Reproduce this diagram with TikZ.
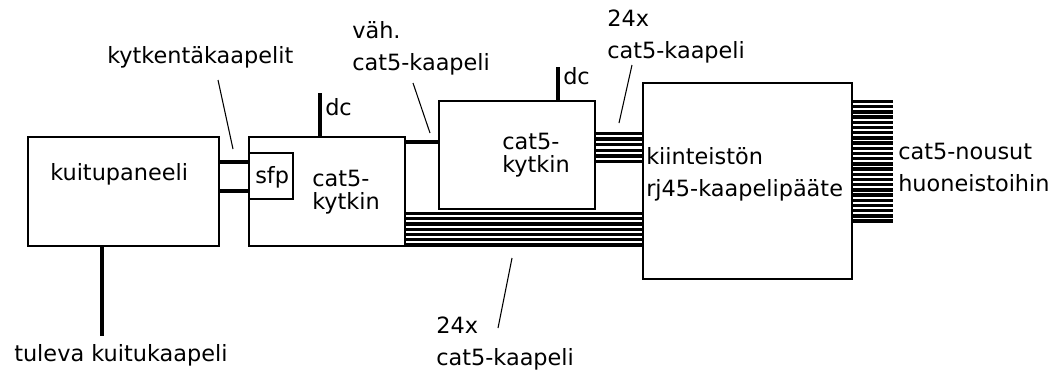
\documentclass[tikz,border=0pt]{standalone}
\usepackage{fontspec}
\setmainfont{DejaVu Sans}
\begin{document}
\begin{tikzpicture}[x=0.75pt,y=-0.75pt,
  box/.style 2 args={draw,line width=1.1pt,minimum width=#1*0.75pt,minimum height=#2*0.75pt,inner sep=0pt,fill=white},
  txt/.style={inner sep=0pt,anchor=west,align=left,font=\fontsize{16.8}{24}\selectfont},
  tighttxt/.style={txt,font=\fontsize{16.8}{17.5}\selectfont},
  cable/.style={line width=2.8pt},
  stripe/.style={line width=2.5pt},
  leader/.style={line width=0.8pt}]
\useasboundingbox (0,0) rectangle (1064,372);

% equipment
\node[box={191}{109}] (panel) at (123.5,191.5) {};
\node[box={156}{109}] (sw1) at (327,191.5) {};
\node[box={44}{46}] (sfp) at (271,176) {};
\node[box={156}{108}] (sw2) at (517,155) {};
\node[box={209}{196}] (pp) at (747.5,181) {};

% box texts
\node[txt] (tpanel) at (50,174) {kuitupaneeli};
\node[txt] (tsfp) at (255,177) {sfp};
\node[tighttxt] (tsw1) at (312,192) {cat5-\\kytkin};
\node[tighttxt] (tsw2) at (502,155) {cat5-\\kytkin};
\node[txt] (tpp) at (646,174) {kiinteistön\\rj45-kaapelipääte};

% fibre in and patch cables to the sfp module
\coordinate (fin) at (102,336);
\draw[cable] (panel.south -| fin) -- (fin);
\draw[cable] (panel.east |- 0,162) -- (sfp.west |- 0,162);
\draw[cable] (panel.east |- 0,191) -- (sfp.west |- 0,191);

% power feeds
\coordinate (dc1) at (320,93);
\coordinate (dc2) at (558,67);
\draw[cable] (sw1.north -| dc1) -- (dc1);
\draw[cable] (sw2.north -| dc2) -- (dc2);
\node[txt] (tdc1) at (325,107) {dc};
\node[txt] (tdc2) at (563,76) {dc};

% uplink between switches
\draw[cable] (sw1.east |- 0,142) -- (sw2.west |- 0,142);

% cable bundles
\foreach \y in {133.5,139.1,144.7,150.3,155.9,161.5}
  \draw[stripe] (sw2.east |- 0,\y) -- (pp.west |- 0,\y);
\foreach \y in {213.5,218.75,224,229.25,234.5,239.75,245}
  \draw[stripe] (sw1.east |- 0,\y) -- (pp.west |- 0,\y);
\coordinate (riser) at (893,0);
\foreach \i in {0,...,23}
  \draw[stripe] (pp.east |- 0,101.5+\i*5.2) -- (riser |- 0,101.5+\i*5.2);

% labels and leaders
\node[txt] (tfin) at (14,355) {tuleva kuitukaapeli};
\node[txt] (tpatch) at (107,57) {kytkentäkaapelit};
\draw[leader] (218,80) -- (233,149);
\node[txt] (tup) at (352,48) {väh.\\cat5-kaapeli};
\draw[leader] (413,83) -- (430,133);
\node[txt] (ttop) at (607,37) {24x\\cat5-kaapeli};
\draw[leader] (632,65) -- (619,123);
\node[txt] (tbot) at (436,344) {24x\\cat5-kaapeli};
\draw[leader] (512,258) -- (498,328);
\node[txt] (triser) at (898,167) {cat5-nousut\\huoneistoihin};
\end{tikzpicture}
\end{document}
